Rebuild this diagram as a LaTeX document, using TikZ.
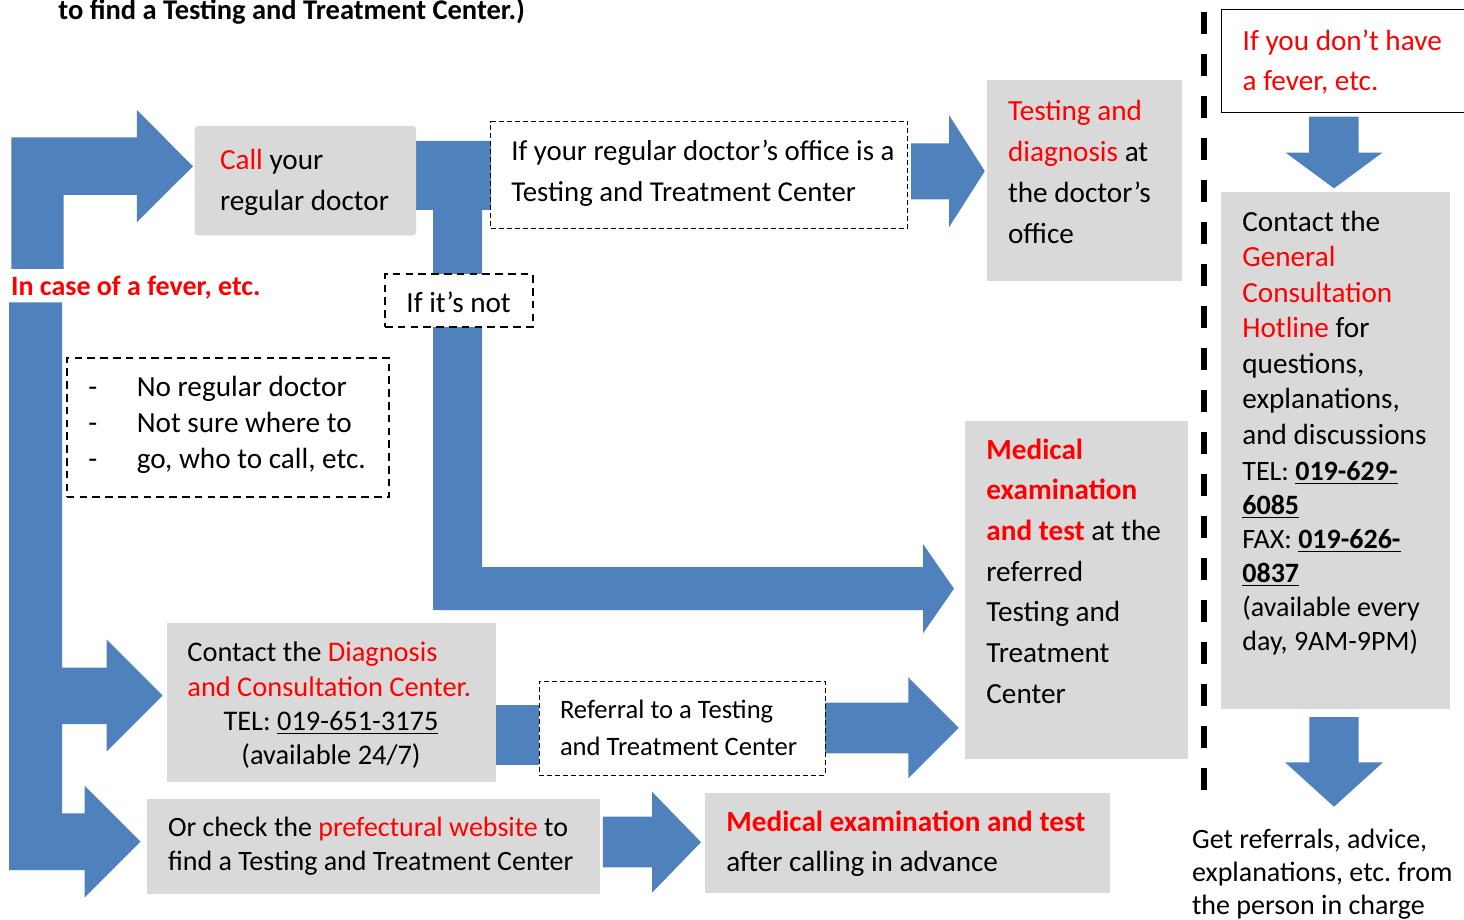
\documentclass[tikz,border=0pt]{standalone}
\usepackage{fontspec}
\setmainfont{Carlito}
\usetikzlibrary{fit}
\definecolor{ablue}{HTML}{4F81BD}
\definecolor{gboxc}{HTML}{D9D9D9}
\definecolor{tred}{HTML}{FF0000}
\newcommand\rd[1]{\textcolor{tred}{#1}}
\frenchspacing
\tikzset{
  blk/.style={fill=ablue, draw=none},
  gray box/.style={fill=gboxc, draw=none, inner sep=0pt},
  thin dash/.style={draw=black, fill=white, line width=0.5pt, dash pattern=on 2.5pt off 1.5pt, inner sep=0pt},
  thick dash/.style={draw=black, fill=white, line width=1pt, dash pattern=on 3.8pt off 2.6pt, inner sep=0pt},
  solid box/.style={draw=black, fill=white, line width=0.5pt, inner sep=0pt},
  txt/.style={inner sep=0pt, anchor=base west, align=left, text=black},
}
\begin{document}
\begin{tikzpicture}[x=0.5pt, y=-0.5pt]
\useasboundingbox (0,0) rectangle (1464,920);
\clip (0,0) rectangle (1464,920);
\fill[white] (0,0) rectangle (1464,920);

% ---------- block arrows ----------
% top L arrow to "Call your regular doctor"
\fill[blk] (11.4,137.5) -- (136.8,137.5) -- (136.8,110) -- (193,166.3) -- (136.8,222.3)
  -- (136.8,195) -- (63.6,195) -- (63.6,269) -- (11.4,269) -- cycle;
% arrow to testing at doctor's office
\fill[blk] (911,143.3) -- (949,143.3) -- (949,115) -- (984.8,171.1) -- (949,227.3)
  -- (949,199.3) -- (911,199.3) -- cycle;
% pipe from call box, down and right to medical box
\fill[blk] (416,141) -- (491,141) -- (491,210) -- (482,210) -- (482,567) -- (923,567)
  -- (923,544) -- (954,588.7) -- (923,633.3) -- (923,610) -- (433,610) -- (433,210)
  -- (416,210) -- cycle;
% connector diagnosis -> referral
\fill[blk] (495.7,705) rectangle (539,764.5);
% referral -> medical
\fill[blk] (825,702.7) -- (908.3,702.7) -- (908.3,677.3) -- (958.7,727.8) -- (908.3,778.3)
  -- (908.3,753.3) -- (825,753.3) -- cycle;
% left E-shaped arrow
\fill[blk] (9,302.3) -- (62,302.3) -- (62,667.7) -- (106.5,667.7) -- (106.5,639.3)
  -- (162.5,695.5) -- (106.5,751.7) -- (106.5,724) -- (62,724) -- (62,813.3)
  -- (84.5,813.3) -- (84.5,785.7) -- (140.5,841.7) -- (84.5,897.7) -- (84.5,870)
  -- (9,870) -- cycle;
% or check -> medical bottom
\fill[blk] (602.8,816.7) -- (652,816.7) -- (652,791.7) -- (701,842.2) -- (652,892.7)
  -- (652,867.3) -- (602.8,867.3) -- cycle;
% down arrows on the right
\fill[blk] (1309,116.7) -- (1358.7,116.7) -- (1358.7,152.7) -- (1382.3,152.7) -- (1334,188.3)
  -- (1285.7,152.7) -- (1309,152.7) -- cycle;
\fill[blk] (1309.3,717) -- (1358.7,717) -- (1358.7,762.3) -- (1383,762.3) -- (1334,806.7)
  -- (1285,762.3) -- (1309.3,762.3) -- cycle;

% ---------- dashed separator ----------
\coordinate (septop) at (1203.7,11.7);
\coordinate (sepbot) at (1203.7,790);
\draw[line width=3pt, dash pattern=on 11pt off 10pt] (septop) -- (sepbot);

% ---------- boxes ----------
\node[gray box, rounded corners=1.5pt, fit={(194.6,126) (416,235.3)}] (callbox) {};
\node[thin dash, fit={(490.7,121.7) (907.8,228.3)}] (ifyour) {};
\node[thick dash, fit={(385,274.5) (533,326.7)}] (ifnot) {};
\node[thick dash, fit={(66.8,358.3) (389.3,496.7)}] (bullets) {};
\node[gray box, fit={(987,80) (1182,280.7)}] (testbox) {};
\node[solid box, fit={(1221,10) (1480,112.3)}] (nofever) {};
\node[gray box, fit={(1221,192.3) (1450,709)}] (hotline) {};
\node[gray box, fit={(965,421) (1187.7,759.3)}] (medbox) {};
\node[gray box, fit={(167,623) (496,781.7)}] (diagbox) {};
\node[thin dash, fit={(539,681) (825,775)}] (referral) {};
\node[gray box, fit={(147,799) (600,894)}] (orcheck) {};
\node[gray box, fit={(705,793.3) (1110,893.3)}] (medbottom) {};

% ---------- texts (multi-line nodes are placed at the baseline of their last line) ----------
\node[txt, font=\bfseries\fontsize{14.25}{17}\selectfont] (title) at (58,20)
  {to find a Testing and Treatment Center.)};
\node[txt, font=\bfseries\fontsize{14}{17}\selectfont, text=tred] (fever) at (10.7,295.5)
  {In case of a fever, etc.};
\node[txt, font=\fontsize{14.6}{20.5}\selectfont] (calltxt) at (219.6,210.5)
  {\rd{Call} your\\regular doctor};
\node[txt, font=\fontsize{14.4}{20.4}\selectfont] (ifyourtxt) at (511,201.3)
  {If your regular doctor’s office is a\\Testing and Treatment Center};
\node[txt, font=\fontsize{14.6}{18}\selectfont] (ifnottxt) at (406,312.7)
  {If it’s not};
\node[txt, font=\fontsize{14.6}{18}\selectfont] (bullettxt) at (88,468.7)
  {\makebox[24.2pt][l]{-}No regular doctor\\
   \makebox[24.2pt][l]{-}Not sure where to\\
   \makebox[24.2pt][l]{-}go, who to call, etc.};
\node[txt, font=\fontsize{14.6}{20.5}\selectfont] (testtxt) at (1007.7,243.5)
  {\rd{Testing and}\\\rd{diagnosis} at\\the doctor’s\\office};
\node[txt, font=\fontsize{14.6}{20.25}\selectfont, text=tred] (nofevertxt) at (1242.3,90.5)
  {If you don’t have\\a fever, etc.};
\node[txt, font=\fontsize{14.6}{17.8}\selectfont] (hotlinetxt) at (1242,444.6)
  {Contact the\\\rd{General}\\\rd{Consultation}\\\rd{Hotline} for\\questions,\\explanations,\\and discussions};
\node[txt, font=\fontsize{14}{17}\selectfont] (hotlinenum) at (1242,650)
  {TEL: \underline{\textbf{019-629-}}\\\underline{\textbf{6085}}\\FAX: \underline{\textbf{019-626-}}\\\underline{\textbf{0837}}\\(available every\\day, 9AM-9PM)};
\node[txt, font=\fontsize{14.6}{20.35}\selectfont] (medtxt) at (986,703.2)
  {\rd{\textbf{Medical}}\\\rd{\textbf{examination}}\\\rd{\textbf{and test}} at the\\referred\\Testing and\\Treatment\\Center};
\node[txt, font=\fontsize{14.2}{17.5}\selectfont] (diagtxt) at (187,696)
  {Contact the \rd{Diagnosis}\\\rd{and Consultation Center.}};
\node[txt, anchor=base, align=center, font=\fontsize{14.2}{17}\selectfont] (diagtel) at (331,764)
  {TEL: \underline{019-651-3175}\\(available 24/7)};
\node[txt, font=\fontsize{13.3}{18.75}\selectfont] (referraltxt) at (559.6,755.8)
  {Referral to a Testing\\and Treatment Center};
\node[txt, font=\fontsize{14}{17}\selectfont] (orchecktxt) at (167.6,870.5)
  {Or check the \rd{prefectural website} to\\find a Testing and Treatment Center};
\node[txt, font=\fontsize{14.6}{20}\selectfont] (medbottomtxt) at (726,871.7)
  {\rd{\textbf{Medical examination and test}}\\after calling in advance};
\node[txt, font=\fontsize{14}{16.6}\selectfont] (gettxt) at (1191.7,914.7)
  {Get referrals, advice,\\explanations, etc. from\\the person in charge};
\end{tikzpicture}
\end{document}
